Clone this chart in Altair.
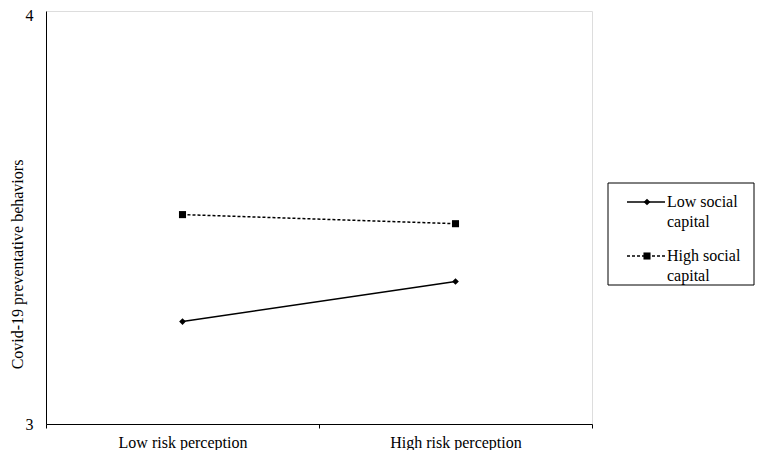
import altair as alt
import pandas as pd

categories = ["Low risk perception", "High risk perception"]
series_names = ["Low social capital", "High social capital"]
low_social = [3.248, 3.345]
high_social = [3.507, 3.485]

rows = []
for s, vals in zip(series_names, [low_social, high_social]):
    for c, v in zip(categories, vals):
        rows.append({"risk": c, "group": s, "value": v})
df = pd.DataFrame(rows)

FONT = "Liberation Serif, Times New Roman, serif"
FS = 16
W, H = 546, 413

x_enc = alt.X("risk:N", sort=categories,
              scale=alt.Scale(type="band", paddingInner=0, paddingOuter=0),
              axis=alt.Axis(title=None, labelAngle=0, tickBand="extent", tickSize=4,
                            tickColor="black", domainColor="black", labelColor="black",
                            labelFont=FONT, labelFontSize=FS, labelPadding=6))
y_enc = alt.Y("value:Q", scale=alt.Scale(domain=[3, 4], nice=False, zero=False),
              axis=alt.Axis(values=[3, 4], format="d", ticks=False, grid=False,
                            domainColor="black", labelColor="black", labelFont=FONT,
                            labelFontSize=FS, labelPadding=13,
                            labelOffset={"condition": {"test": "datum.value == 4", "value": 4}, "value": 0},
                            title="Covid-19 preventative behaviors", titleFont=FONT,
                            titleFontSize=FS, titleFontWeight="normal", titleColor="black",
                            titleX=-29, titleY=253, titleAngle=-90, titleBaseline="middle",
                            titleAlign="center"))

base = alt.Chart(df).encode(x=x_enc, y=y_enc)

line_low = base.transform_filter(alt.datum.group == series_names[0]).mark_line(
    color="black", strokeWidth=1.5)
line_high = base.transform_filter(alt.datum.group == series_names[1]).mark_line(
    color="black", strokeWidth=1.5, strokeDash=[3, 2])
pts_low = base.transform_filter(alt.datum.group == series_names[0]).mark_point(
    shape="diamond", filled=True, color="black", size=45, opacity=1)
pts_high = base.transform_filter(alt.datum.group == series_names[1]).mark_point(
    shape="square", filled=True, color="black", size=50, opacity=1)

# manual legend (layout only)
leg = alt.Chart(pd.DataFrame({"a": [0]}))
box = leg.mark_rect(fill="white", stroke="black", strokeWidth=1).encode(
    x=alt.value(562), x2=alt.value(708), y=alt.value(172), y2=alt.value(274))
l1 = leg.mark_rule(color="black", strokeWidth=1.5).encode(
    x=alt.value(581), x2=alt.value(619), y=alt.value(191))
l2 = leg.mark_rule(color="black", strokeWidth=1.5, strokeDash=[3, 2]).encode(
    x=alt.value(581), x2=alt.value(619), y=alt.value(245))
p1 = leg.mark_point(shape="diamond", filled=True, color="black", size=45, opacity=1).encode(
    x=alt.value(601), y=alt.value(191))
p2 = leg.mark_point(shape="square", filled=True, color="black", size=50, opacity=1).encode(
    x=alt.value(601), y=alt.value(245))

def txt(t, y):
    return leg.mark_text(align="left", baseline="middle", font=FONT, fontSize=FS,
                         color="black").encode(x=alt.value(621), y=alt.value(y), text=alt.value(t))

texts = [txt("Low social", 191), txt("capital", 211), txt("High social", 245), txt("capital", 265)]

chart = alt.layer(line_low, line_high, pts_low, pts_high, box, l1, l2, p1, p2, *texts).properties(
    width=W, height=H,
    autosize=alt.AutoSizeParams(type="none"),
    padding={"left": 38, "top": 3, "right": 165, "bottom": 26},
).configure_view(stroke="#808080", strokeWidth=1).configure(background="white")

chart.save("out.html", embed_options={"renderer": "svg", "actions": False})
